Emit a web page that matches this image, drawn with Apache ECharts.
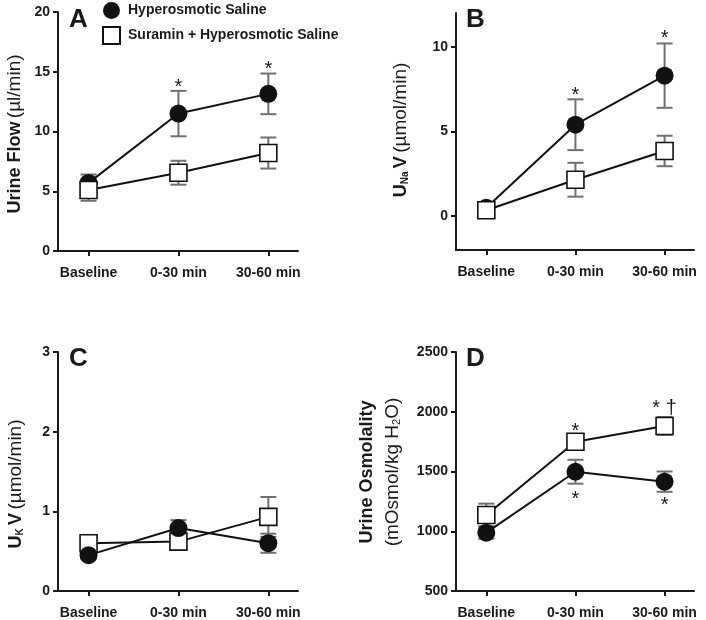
<!DOCTYPE html>
<html>
<head>
<meta charset="utf-8">
<script src="https://cdn.jsdelivr.net/npm/echarts@6/dist/echarts.min.js"></script>
<style>
  html, body { margin: 0; padding: 0; background: #fff; }
  #main { width: 706px; height: 620px; }
</style>
</head>
<body>
<div id="main"></div>
<script>
// data (mean and SEM)
var categories = ['Baseline', '0-30 min', '30-60 min'];
var seriesNames = ['Hyperosmotic Saline', 'Suramin + Hyperosmotic Saline'];

var flowHyper = [5.7, 11.5, 13.15];
var flowHyperErr = [0.7, 1.9, 1.7];
var flowSuramin = [5.1, 6.55, 8.2];
var flowSuraminErr = [0.9, 1.0, 1.3];

var naHyper = [0.5, 5.4, 8.3];
var naHyperErr = [0.2, 1.5, 1.9];
var naSuramin = [0.35, 2.15, 3.85];
var naSuraminErr = [0.15, 1.0, 0.9];

var kHyper = [0.45, 0.79, 0.6];
var kHyperErr = [0.03, 0.1, 0.12];
var kSuramin = [0.6, 0.62, 0.93];
var kSuraminErr = [0.08, 0.1, 0.25];

var osmHyper = [988, 1498, 1415];
var osmHyperErr = [50, 100, 85];
var osmSuramin = [1136, 1749, 1881];
var osmSuraminErr = [95, 50, 75];

// significance marks: [category index, value, text]
var marksA = [[1, 14.1, '*'], [2, 15.6, '*']];
var marksB = [[1, 7.4, '*'], [2, 10.8, '*']];
var marksD = [[1, 1880, '*'], [1, 1310, '*'], [2, 2073, '* \u2020'], [2, 1260, '*']];

var FONT = '"Liberation Sans", Arial, sans-serif';
var INK = '#1a1a1a';

var myChart = echarts.init(document.getElementById('main'));

function pts(vals) {
  return vals.map(function (v, i) { return [i, v]; });
}
function errPts(vals, errs) {
  return vals.map(function (v, i) { return [i, v - errs[i], v + errs[i]]; });
}

function xAxisFor(idx) {
  return {
    type: 'value', gridIndex: idx, min: -0.34, max: 2.33,
    axisLine: { onZero: false, lineStyle: { color: INK, width: 2 } },
    axisTick: { length: 5, customValues: [0, 1, 2], lineStyle: { color: INK, width: 2 } },
    axisLabel: {
      customValues: [0, 1, 2], margin: 15, color: INK, fontSize: 14, fontWeight: 'bold', fontFamily: FONT,
      formatter: function (v) { return categories[Math.round(v)]; }
    },
    splitLine: { show: false }
  };
}
function yAxisFor(idx, min, max, ticks) {
  return {
    type: 'value', gridIndex: idx, min: min, max: max,
    axisLine: { show: true, onZero: false, lineStyle: { color: INK, width: 2 } },
    axisTick: { show: true, length: 5, customValues: ticks, lineStyle: { color: INK, width: 2 } },
    axisLabel: {
      customValues: ticks, margin: 8, color: INK, fontSize: 14, fontWeight: 'bold', fontFamily: FONT,
      formatter: function (v) { return String(v); }
    },
    splitLine: { show: false }
  };
}

function errorSeries(idx, vals, errs) {
  return {
    type: 'custom', xAxisIndex: idx, yAxisIndex: idx, z: 2,
    data: errPts(vals, errs),
    encode: { x: 0, y: [1, 2] },
    renderItem: function (params, api) {
      var x = api.value(0);
      var top = api.coord([x, api.value(2)]);
      var bot = api.coord([x, api.value(1)]);
      var w = 8;
      var st = { stroke: '#707070', lineWidth: 2 };
      return {
        type: 'group',
        children: [
          { type: 'line', shape: { x1: top[0], y1: top[1], x2: bot[0], y2: bot[1] }, style: st },
          { type: 'line', shape: { x1: top[0] - w, y1: top[1], x2: top[0] + w, y2: top[1] }, style: st },
          { type: 'line', shape: { x1: bot[0] - w, y1: bot[1], x2: bot[0] + w, y2: bot[1] }, style: st }
        ]
      };
    }
  };
}

function markSeries(idx, marks) {
  return {
    type: 'custom', xAxisIndex: idx, yAxisIndex: idx, z: 6,
    data: marks.map(function (m) { return [m[0], m[1]]; }),
    renderItem: function (params, api) {
      var p = api.coord([api.value(0), api.value(1)]);
      return {
        type: 'text', x: p[0], y: p[1] + 5,
        style: {
          text: marks[params.dataIndex][2], fill: INK, fontSize: 20, fontFamily: FONT,
          align: 'center', verticalAlign: 'middle'
        }
      };
    }
  };
}

function circleSeries(idx, vals, z) {
  return {
    name: seriesNames[0], type: 'line', xAxisIndex: idx, yAxisIndex: idx, z: z,
    data: pts(vals), symbol: 'circle', symbolSize: 18,
    itemStyle: { color: '#111', borderColor: '#111', borderWidth: 0 },
    lineStyle: { color: '#111', width: 2 }
  };
}
function squareSeries(idx, vals, z) {
  return {
    name: seriesNames[1], type: 'line', xAxisIndex: idx, yAxisIndex: idx, z: z,
    data: pts(vals), symbol: 'rect', symbolSize: 17,
    itemStyle: { color: '#fff', borderColor: '#111', borderWidth: 1.6 },
    lineStyle: { color: '#111', width: 2 }
  };
}

function letter(t, left, top) {
  return { type: 'text', left: left, top: top, style: { text: t, fill: INK, font: 'bold 26px ' + FONT } };
}

var titleRich = {
  b: { fontSize: 18, fontWeight: 'bold', fontFamily: FONT, color: INK, lineHeight: 26, verticalAlign: 'bottom' },
  s: { fontSize: 10, fontWeight: 'bold', fontFamily: FONT, color: INK, lineHeight: 26, verticalAlign: 'bottom' },
  n: { fontSize: 19, fontFamily: FONT, color: INK, lineHeight: 26, verticalAlign: 'bottom' },
  n2: { fontSize: 11, fontFamily: FONT, color: INK, lineHeight: 26, verticalAlign: 'bottom' }
};
function axisTitle(text, x, y) {
  return {
    type: 'text', x: x, y: y, rotation: Math.PI / 2,
    style: { text: text, rich: titleRich, align: 'center', verticalAlign: 'middle', fill: INK }
  };
}

var option = {
  animation: false,
  backgroundColor: '#fff',
  legend: {
    data: [{ name: seriesNames[0], icon: 'circle' }, { name: seriesNames[1], icon: 'rect' }],
    orient: 'vertical', left: 102, top: 2, padding: 0, itemWidth: 17, itemHeight: 17, itemGap: 7,
    selectedMode: false,
    textStyle: { color: INK, fontSize: 14, fontWeight: 'bold', fontFamily: FONT, padding: [0, 0, 0, 3] }
  },
  grid: [
    { left: 58, top: 12, width: 240, height: 239 },
    { left: 456, top: 13, width: 238, height: 237 },
    { left: 58, top: 352, width: 240, height: 239 },
    { left: 456, top: 352, width: 238, height: 239 }
  ],
  xAxis: [xAxisFor(0), xAxisFor(1), xAxisFor(2), xAxisFor(3)],
  yAxis: [
    yAxisFor(0, 0, 20, [0, 5, 10, 15, 20]),
    yAxisFor(1, -2, 12, [0, 5, 10]),
    yAxisFor(2, 0, 3, [0, 1, 2, 3]),
    yAxisFor(3, 500, 2500, [500, 1000, 1500, 2000, 2500])
  ],
  graphic: [
    letter('A', 69, 7), letter('B', 466, 7), letter('C', 69, 346), letter('D', 466, 346),
    axisTitle('{b|Urine Flow} {n|(\u00b5l/min)}', 11, 134),
    axisTitle('{b|U}{s|Na} {b|V} {n|(\u00b5mol/min)}', 397, 130),
    axisTitle('{b|U}{s|K} {b|V} {n|(\u00b5mol/min)}', 12, 484),
    axisTitle('{b|Urine Osmolality}\n{n|(mOsmol/kg H}{n2|2}{n|O)}', 376, 472)
  ],
  series: [
    errorSeries(0, flowHyper, flowHyperErr), errorSeries(0, flowSuramin, flowSuraminErr),
    circleSeries(0, flowHyper, 3), squareSeries(0, flowSuramin, 4), markSeries(0, marksA),

    errorSeries(1, naHyper, naHyperErr), errorSeries(1, naSuramin, naSuraminErr),
    circleSeries(1, naHyper, 3), squareSeries(1, naSuramin, 4), markSeries(1, marksB),

    errorSeries(2, kHyper, kHyperErr), errorSeries(2, kSuramin, kSuraminErr),
    squareSeries(2, kSuramin, 3), circleSeries(2, kHyper, 4),

    errorSeries(3, osmHyper, osmHyperErr), errorSeries(3, osmSuramin, osmSuraminErr),
    circleSeries(3, osmHyper, 3), squareSeries(3, osmSuramin, 4), markSeries(3, marksD)
  ]
};

myChart.setOption(option);
</script>
</body>
</html>
